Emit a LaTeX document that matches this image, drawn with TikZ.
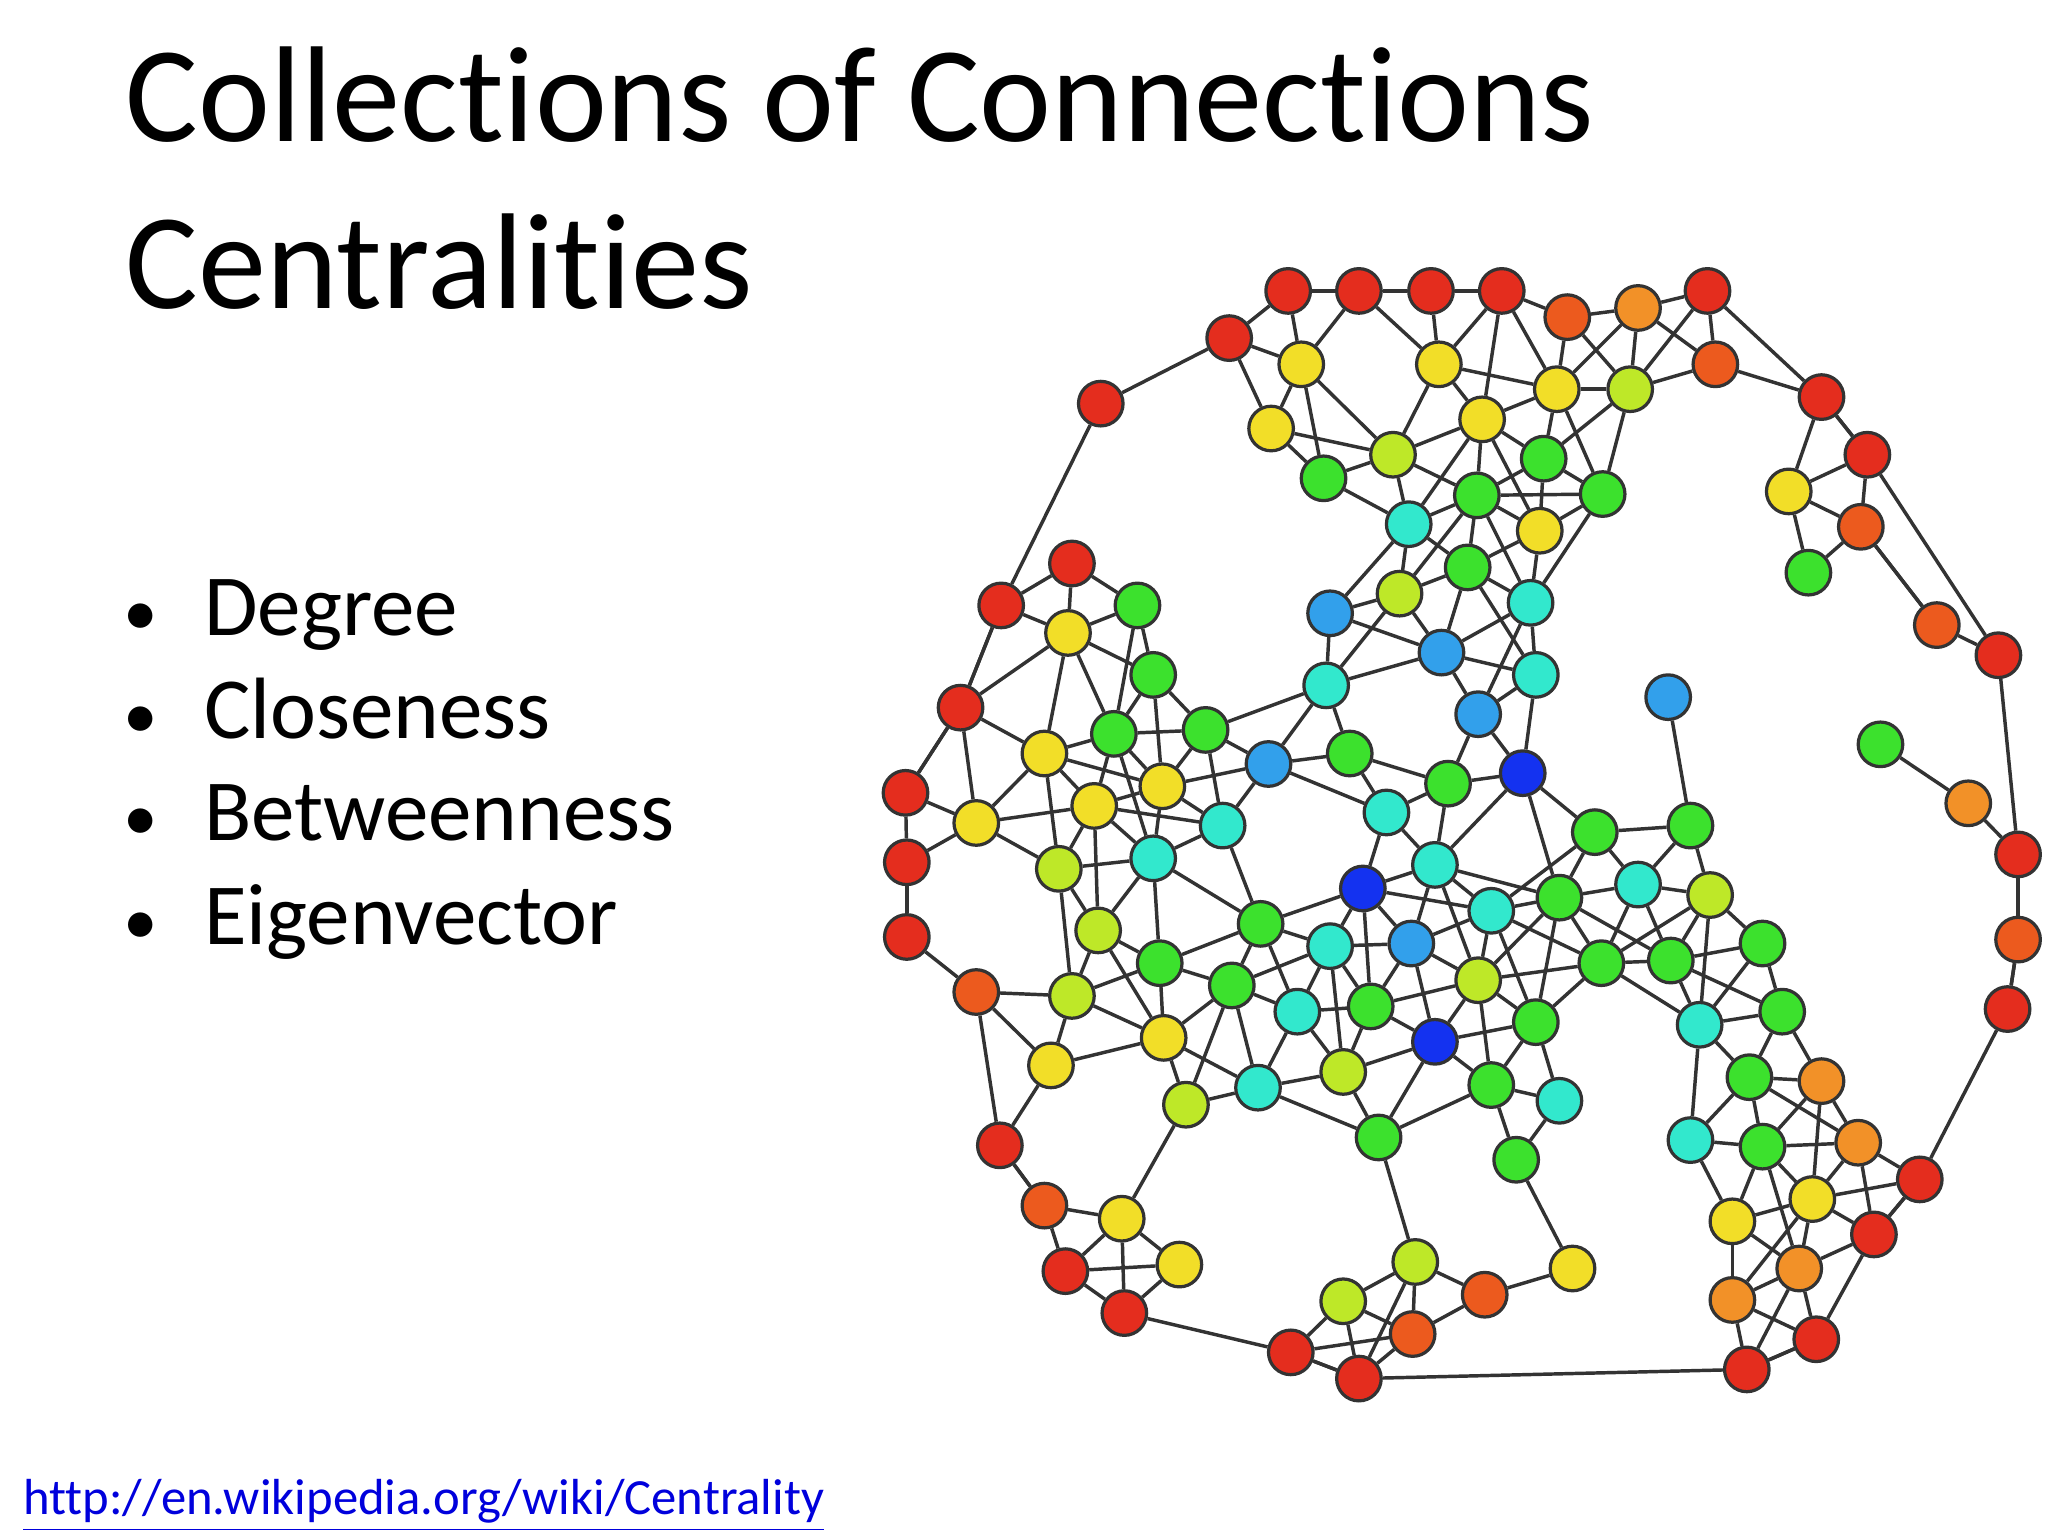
\documentclass[tikz,border=0pt]{standalone}
\usepackage{fontspec}
\setmainfont{Carlito}[Ligatures={NoCommon}]
\usetikzlibrary{backgrounds}
\definecolor{cR}{RGB}{228,45,30}
\definecolor{cO}{RGB}{236,90,30}
\definecolor{cOr}{RGB}{242,145,40}
\definecolor{cY}{RGB}{242,222,40}
\definecolor{cYG}{RGB}{190,232,40}
\definecolor{cG}{RGB}{60,225,45}
\definecolor{cC}{RGB}{50,232,205}
\definecolor{cLB}{RGB}{50,160,235}
\definecolor{cB}{RGB}{20,50,240}
\definecolor{linkblue}{RGB}{0,0,220}
\tikzset{dot/.style={circle,draw=black!80,line width=0.7pt,fill=#1,minimum size=0.34cm,inner sep=0pt},
  edge/.style={draw=black!80,line width=0.75pt},
  title/.style={anchor=base west,font=\fontsize{29.6}{36}\selectfont,inner sep=0pt},
  bul/.style={anchor=base west,font=\fontsize{18.9}{24}\selectfont,inner sep=0pt}}
\begin{document}
\begin{tikzpicture}
\useasboundingbox (0,0) rectangle (15.62,-11.715);
\node[title] (t1) at (0.95,-1.08) {Collections of Connections};
\node[title] (t2) at (0.95,-2.35) {Centralities};
\foreach \t/\yy [count=\k] in {Degree/4.85,Closeness/5.63,Betweenness/6.41,Eigenvector/7.20}{
  \node[bul] (b\k) at (1.55,-\yy) {\t};
  \node[bul,anchor=base,font=\fontsize{15}{18}\selectfont] (bb\k) at (1.07,-\yy) {•};
}
\node[anchor=base west,inner sep=0pt,font=\fontsize{11}{13}\selectfont,text=linkblue] (url) at (0.17,-11.55) {\underline{http://en.wikipedia.org/wiki/Centrality}};
\foreach \x/\y/\c [count=\i] in {
983/222/cR,1037/222/cR,1092/222/cR,1146/222/cR,1196/242/cO,1250/235/cOr,1303/222/cR,
938/258/cR,840/308/cR,993/278/cY,1098/278/cY,1188/297/cY,1244/297/cYG,1309/278/cO,1390/303/cR,1425/347/cR,1420/402/cO,
970/327/cY,1063/347/cYG,1131/320/cY,1178/350/cG,1010/365/cG,1127/378/cG,1075/400/cC,1175/405/cY,1223/377/cG,1365/375/cY,1380/437/cG,1120/433/cG,1068/453/cYG,1168/460/cC,1015/468/cLB,1100/498/cLB,1172/515/cC,1273/532/cLB,1012/523/cC,1128/545/cLB,1162/590/cB,968/583/cLB,1030/575/cG,1105/598/cG,1058/620/cC,1040/678/cB,1095/660/cC,1138/695/cC,1077/720/cLB,1015/722/cC,1128/748/cYG,1046/768/cG,1095/795/cB,990/772/cC,1025/818/cYG,960/830/cC,1138/828/cG,1172/780/cG,1190/685/cG,1217/635/cG,1250/675/cC,1290/630/cG,1305/683/cYG,1222/735/cG,1275/733/cG,1345/720/cG,1297/782/cC,1360/772/cG,1335/822/cG,1390/825/cOr,1190/840/cC,1052/868/cG,1157/885/cG,1290/870/cC,1345/875/cG,1418/872/cOr,1383/915/cY,1322/932/cY,1373/968/cOr,1322/992/cOr,1430/942/cR,1465/900/cR,1386/1022/cR,1333/1045/cR,
818/430/cR,764/462/cR,733/540/cR,691/605/cR,692/658/cR,692/715/cR,745/757/cO,763/874/cR,797/920/cO,813/970/cR,858/1002/cR,985/1032/cR,1037/1052/cR,1078/1018/cO,1133/988/cO,1200/968/cY,1080/963/cYG,1025/993/cYG,900/965/cY,856/930/cY,
868/462/cG,815/483/cY,880/515/cG,850/560/cG,920/557/cG,797/575/cY,887/600/cY,835/615/cY,745/628/cY,933/630/cC,808/663/cYG,880/655/cC,838/710/cYG,962/705/cG,885/735/cG,818/760/cYG,940/752/cG,888/792/cY,802/813/cY,905/843/cYG,
1478/477/cO,1525/500/cR,1435/568/cG,1502/613/cOr,1540/652/cR,1540/717/cO,1532/770/cR}{
  \node[dot=\c] (n\i) at (\x*0.01,-\y*0.01) {};
  \expandafter\xdef\csname px\i\endcsname{\x}
  \expandafter\xdef\csname py\i\endcsname{\y}
  \xdef\N{\i}
}
\begin{pgfonlayer}{background}
\foreach \i in {1,...,\N}{
  \foreach \j in {\i,...,\N}{
    \ifnum\j>\i
      \pgfmathtruncatemacro\ok{(((\csname px\i\endcsname-\csname px\j\endcsname)/100)^2+((\csname py\i\endcsname-\csname py\j\endcsname)/100)^2<1.0)?1:0}
      \ifnum\ok=1 \draw[edge] (n\i) -- (n\j); \fi
    \fi
  }
}
\foreach \a/\b in {8/9,9/83,83/84,84/85,92/93,93/94,94/81,81/80,78/79,79/128,128/127,127/126,126/123,123/16,122/17,15/7,16/15,89/88,89/90}
  \draw[edge] (n\a) -- (n\b);
\end{pgfonlayer}
\end{tikzpicture}
\end{document}
